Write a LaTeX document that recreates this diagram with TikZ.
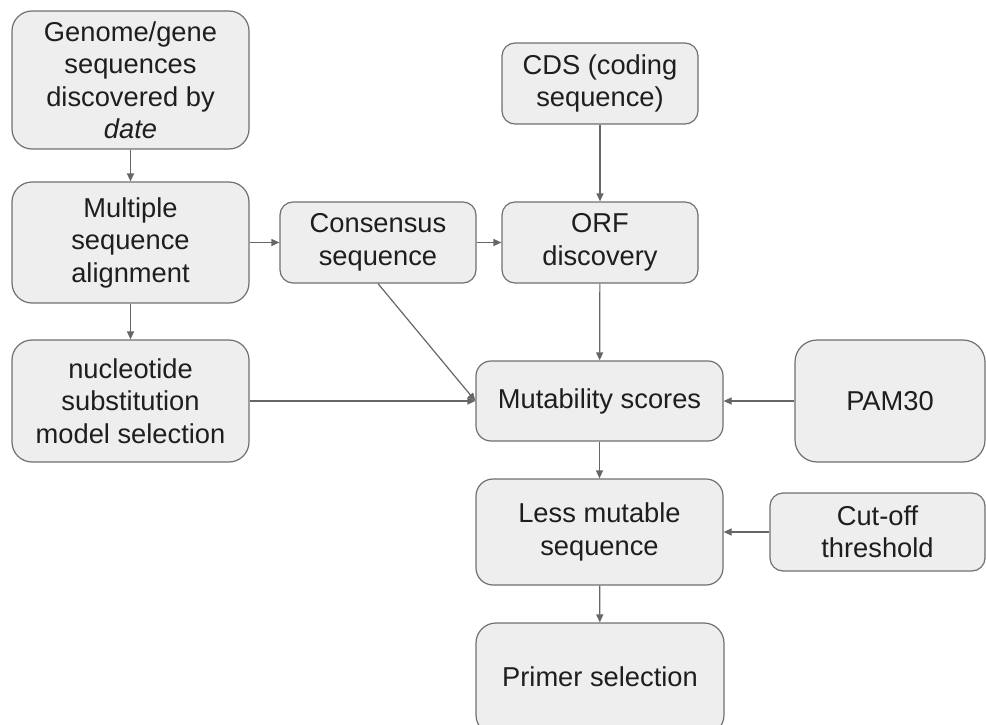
\documentclass[tikz,border=0pt]{standalone}
\usepackage{fontspec}
\setmainfont{Liberation Sans}
\usetikzlibrary{arrows.meta}
\definecolor{boxfill}{HTML}{EEEEEE}
\definecolor{boxline}{HTML}{707070}
\definecolor{arrowc}{HTML}{666666}
\definecolor{txt}{HTML}{1E1E1E}
\tikzset{
  box/.style={draw=boxline, fill=boxfill, line width=1.2pt, align=center,
    text=txt, inner sep=0pt, font=\fontsize{27.3}{32.5}\selectfont},
  flow/.style={draw=arrowc, line width=1.2pt, -{Triangle[length=8pt,width=7pt]}}
}
\begin{document}
\begin{tikzpicture}[x=1pt,y=-1pt]
\useasboundingbox (0,0) rectangle (986,725);
\node[box, rounded corners=20pt, minimum width=237pt, minimum height=138pt] (genome) at (130.5,80) {Genome/gene\\sequences\\discovered by\\\textit{date}};
\node[box, rounded corners=20pt, minimum width=237pt, minimum height=121pt] (msa) at (130.5,242.5) {Multiple\\sequence\\alignment};
\node[box, rounded corners=20pt, minimum width=237pt, minimum height=122pt] (nuc) at (130.5,401) {nucleotide\\substitution\\model selection};
\node[box, rounded corners=13pt, minimum width=196pt, minimum height=81pt] (cons) at (378,242.5) {Consensus\\sequence};
\node[box, rounded corners=13pt, minimum width=196pt, minimum height=81pt] (cds) at (600,83.5) {CDS (coding\\sequence)};
\node[box, rounded corners=13pt, minimum width=196pt, minimum height=81pt] (orf) at (600,242.5) {ORF\\discovery};
\node[box, rounded corners=15pt, minimum width=247pt, minimum height=80pt] (mut) at (599.5,401) {Mutability scores};
\node[box, rounded corners=22pt, minimum width=190pt, minimum height=122pt] (pam) at (890,401) {PAM30};
\node[box, rounded corners=17pt, minimum width=247pt, minimum height=106pt] (less) at (599.5,532) {Less mutable\\sequence};
\node[box, rounded corners=13pt, minimum width=215pt, minimum height=78pt] (cut) at (877.5,532) {Cut-off\\threshold};
\node[box, rounded corners=20pt, minimum width=248pt, minimum height=112pt] (primer) at (600,679) {};
\node[text=txt, font=\fontsize{27.3}{32.5}\selectfont] (primert) at (600,677) {Primer selection};
\draw[flow] (genome) -- (msa);
\draw[flow] (msa) -- (nuc);
\draw[flow] (msa) -- (cons);
\draw[flow] (cons) -- (orf);
\draw[flow] (cds) -- (orf);
\draw[flow] (orf) -- (mut);
\draw[flow] (cons.south) -- (mut.west);
\draw[flow] (nuc.east) -- (mut.west);
\draw[flow] (pam) -- (mut);
\draw[flow] (mut) -- (less);
\draw[flow] (cut) -- (less);
\draw[flow] (less) -- (primer);
\end{tikzpicture}
\end{document}
